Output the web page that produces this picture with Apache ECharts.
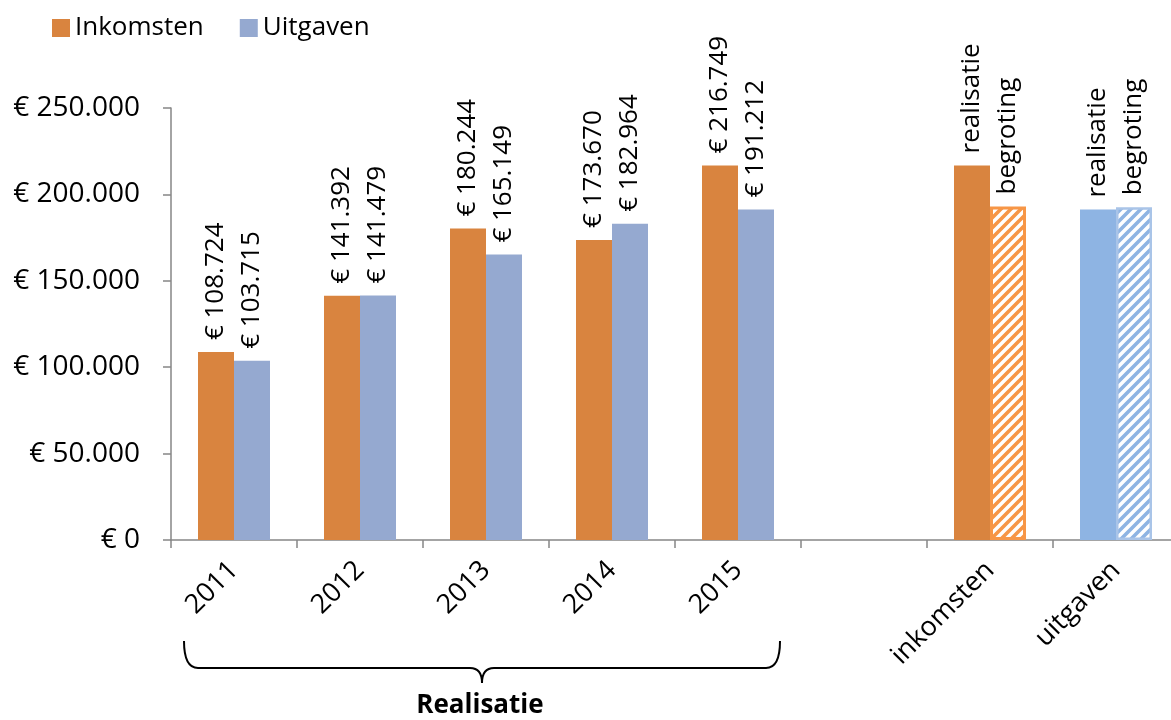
<!DOCTYPE html>
<html>
<head>
<meta charset="utf-8">
<script src="https://cdn.jsdelivr.net/npm/echarts@6/dist/echarts.min.js"></script>
<style>
html,body{margin:0;padding:0;background:#fff;overflow:hidden;}
#c{width:1180px;height:720px;}
</style>
</head>
<body>
<div id="c"></div>
<script>
const categories = ['2011', '2012', '2013', '2014', '2015', '', 'inkomsten', 'uitgaven'];
const inkomsten = [108724, 141392, 180244, 173670, 216749];
const uitgaven = [103715, 141479, 165149, 182964, 191212];
const realisatie = [216749, 191212];   // inkomsten, uitgaven
const begroting = [193000, 192500];    // inkomsten, uitgaven
const compareLabels = ['realisatie', 'begroting'];
const legendNames = ['Inkomsten', 'Uitgaven'];
const groupLabel = 'Realisatie';

const FONT = '"Open Sans", "Noto Sans", sans-serif';
const ORANGE = '#D9843F';
const BLUE = '#95A9D0';
const BLUE2 = '#8EB4E3';
const ORANGE2 = '#F79646';

function fmt(v) {
  return String(Math.round(v)).replace(/\B(?=(\d{3})+(?!\d))/g, '.');
}
function hatch(color) {
  const c = document.createElement('canvas');
  c.width = c.height = 10;
  const g = c.getContext('2d');
  g.fillStyle = '#fff';
  g.fillRect(0, 0, 10, 10);
  g.strokeStyle = color;
  g.lineWidth = 3.6;
  g.beginPath();
  g.moveTo(-2, 12); g.lineTo(12, -2);
  g.moveTo(-3, 3); g.lineTo(3, -3);
  g.moveTo(7, 13); g.lineTo(13, 7);
  g.stroke();
  return c;
}

const nYears = inkomsten.length;
const dataA = inkomsten.slice();
const dataB = uitgaven.slice();
dataA.push('-'); dataB.push('-');
dataA.push({ value: realisatie[0], itemStyle: { color: ORANGE } });
dataA.push({ value: realisatie[1], itemStyle: { color: BLUE2 } });
dataB.push({ value: begroting[0], itemStyle: { color: { image: hatch(ORANGE2), repeat: 'repeat' }, borderColor: ORANGE2, borderWidth: 3 } });
dataB.push({ value: begroting[1], itemStyle: { color: { image: hatch(BLUE2), repeat: 'repeat' }, borderColor: '#A9C4E8', borderWidth: 2.5 } });

const labelCfg = (si) => ({
  show: true,
  position: 'top',
  rotate: 90,
  align: 'left',
  verticalAlign: 'middle',
  distance: 12,
  color: '#000',
  fontFamily: FONT,
  fontSize: 26,
  formatter: p => p.dataIndex < nYears ? '€ ' + fmt(p.value) : compareLabels[si]
});

const braceStyle = { stroke: '#000', lineWidth: 2, fill: 'none' };
const chart = echarts.init(document.getElementById('c'), null, { renderer: 'canvas' });
chart.setOption({
  animation: false,
  backgroundColor: '#fff',
  textStyle: { fontFamily: FONT },
  legend: {
    left: 47, top: 10,
    itemWidth: 18, itemHeight: 18, itemGap: 36,
    textStyle: { fontFamily: FONT, fontSize: 26, color: '#000' },
    data: legendNames.map(n => ({ name: n, icon: 'rect' }))
  },
  grid: { left: 171, right: 1, top: 108, bottom: 180, containLabel: false },
  xAxis: {
    type: 'category',
    data: categories,
    axisLine: { lineStyle: { color: '#868686', width: 1.5 } },
    axisTick: { show: true, length: 8, lineStyle: { color: '#868686', width: 1.5 } },
    axisLabel: { rotate: 45, margin: 26, color: '#000', fontFamily: FONT, fontSize: 27, interval: 0 }
  },
  yAxis: {
    type: 'value',
    min: 0, max: 250000, interval: 50000,
    splitLine: { show: false },
    axisLine: { show: true, lineStyle: { color: '#868686', width: 1.5 } },
    axisTick: { show: true, length: 8, lineStyle: { color: '#868686', width: 1.5 } },
    axisLabel: { margin: 31, color: '#000', fontFamily: FONT, fontSize: 28,
      formatter: v => v === 0 ? '€ 0' : '€ ' + fmt(v) }
  },
  series: [
    { name: legendNames[0], type: 'bar', data: dataA, barWidth: 36, barGap: '0%',
      itemStyle: { color: ORANGE }, label: labelCfg(0) },
    { name: legendNames[1], type: 'bar', data: dataB, barWidth: 36, barGap: '0%',
      itemStyle: { color: BLUE }, label: labelCfg(1) }
  ]
});

chart.setOption({
  graphic: [
    { type: 'bezierCurve', shape: { x1: 184, y1: 641, x2: 198, y2: 668, cpx1: 184, cpy1: 668 }, style: braceStyle },
    { type: 'line', shape: { x1: 198, y1: 668, x2: 470, y2: 668 }, style: braceStyle },
    { type: 'bezierCurve', shape: { x1: 470, y1: 668, x2: 482, y2: 683, cpx1: 482, cpy1: 668 }, style: braceStyle },
    { type: 'bezierCurve', shape: { x1: 494, y1: 668, x2: 482, y2: 683, cpx1: 482, cpy1: 668 }, style: braceStyle },
    { type: 'line', shape: { x1: 494, y1: 668, x2: 766, y2: 668 }, style: braceStyle },
    { type: 'bezierCurve', shape: { x1: 780, y1: 641, x2: 766, y2: 668, cpx1: 780, cpy1: 668 }, style: braceStyle },
    { type: 'text', style: { text: groupLabel, x: 480, y: 706, align: 'center', verticalAlign: 'middle',
      font: 'bold 26px ' + FONT, fill: '#000' } }
  ]
});
</script>
</body>
</html>
